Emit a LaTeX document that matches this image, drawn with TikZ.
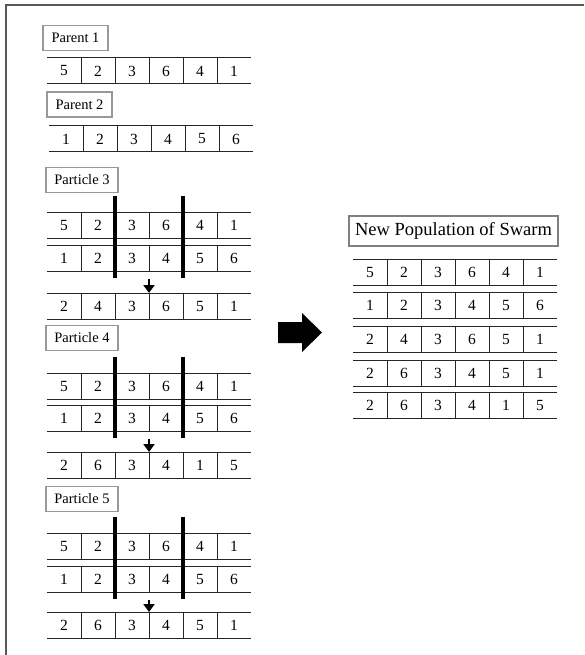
\documentclass[tikz,border=0pt]{standalone}
\usepackage{fontspec}
\setmainfont{Liberation Serif}
\usetikzlibrary{arrows.meta,calc}
\tikzset{
 cell/.style={minimum width=34pt,minimum height=26pt,inner sep=0pt,outer sep=0pt,font=\fontsize{15.5}{17}\selectfont},
 rowline/.style={draw=black!85,line width=1pt},
 labelbox/.style={draw=black!40,line width=1.3pt,minimum height=25pt,inner sep=2pt,font=\fontsize{14.5}{16}\selectfont},
 titlebox/.style={draw=black!50,line width=1.3pt,minimum height=30pt,minimum width=209pt,inner sep=2pt,font=\fontsize{18.5}{20}\selectfont},
 cutbar/.style={line width=3.4pt,black},
 downarrow/.style={line width=2.6pt,-{Triangle[width=11pt,length=8pt]}},
 frameline/.style={draw=black!65,line width=1.5pt},
}
\newcommand\genrow[4]{%
 \foreach \v [count=\i] in {#4} {
   \node[cell] (#1-\i) at ({#2+(\i-0.5)*34},{#3+13}) {\v};
 }
 \draw[rowline] (#1-1.north west) -- (#1-6.north east);
 \draw[rowline] (#1-1.south west) -- (#1-6.south east);
 \foreach \i in {1,...,5} {\draw[rowline] (#1-\i.north east) -- (#1-\i.south east);}
}
\newcommand\crossbars[3]{% prefix A, prefix B, prefix result
 \draw[cutbar] ($(#1-2.north east)+(0,-16)$) -- ($(#2-2.south east)+(0,7)$);
 \draw[cutbar] ($(#1-4.north east)+(0,-16)$) -- ($(#2-4.south east)+(0,7)$);
 \coordinate (#3s) at ($(#2-3.south east)+(0,8)$);
 \draw[downarrow] (#3s) -- (#3-3.north east);
}
\begin{document}
\begin{tikzpicture}[x=1pt,y=-1pt]
\useasboundingbox (0,0) rectangle (584,655);
\draw[frameline] (6,655) -- (6,5) -- (584,5);

% Parents
\node[labelbox,minimum width=65pt] (lp1) at (75.5,38) {Parent 1};
\genrow{pa}{47}{58}{5,2,3,6,4,1}
\node[labelbox,minimum width=65pt] (lp2) at (79.5,104.5) {Parent 2};
\genrow{pb}{49}{126}{1,2,3,4,5,6}

% Particle 3
\node[labelbox,minimum width=72pt] (lq3) at (82,180) {Particle 3};
\genrow{qA}{47}{212}{5,2,3,6,4,1}
\genrow{qB}{47}{245}{1,2,3,4,5,6}
\genrow{qR}{47}{293}{2,4,3,6,5,1}
\crossbars{qA}{qB}{qR}

% Particle 4
\node[labelbox,minimum width=72pt] (lq4) at (82,338) {Particle 4};
\genrow{rA}{47}{373}{5,2,3,6,4,1}
\genrow{rB}{47}{405}{1,2,3,4,5,6}
\genrow{rR}{47}{452}{2,6,3,4,1,5}
\crossbars{rA}{rB}{rR}

% Particle 5
\node[labelbox,minimum width=72pt] (lq5) at (82,499) {Particle 5};
\genrow{sA}{47}{533}{5,2,3,6,4,1}
\genrow{sB}{47}{566}{1,2,3,4,5,6}
\genrow{sR}{47}{612}{2,6,3,4,5,1}
\crossbars{sA}{sB}{sR}

% Big arrow
\fill[black] (278,322) -- (302,322) -- (302,313) -- (322,332.5) -- (302,352) -- (302,343) -- (278,343) -- cycle;

% New population
\node[titlebox] (title) at (453.5,231) {New Population of Swarm};
\genrow{n1}{353}{259}{5,2,3,6,4,1}
\genrow{n2}{353}{292}{1,2,3,4,5,6}
\genrow{n3}{353}{326}{2,4,3,6,5,1}
\genrow{n4}{353}{360}{2,6,3,4,5,1}
\genrow{n5}{353}{392}{2,6,3,4,1,5}
\end{tikzpicture}
\end{document}
